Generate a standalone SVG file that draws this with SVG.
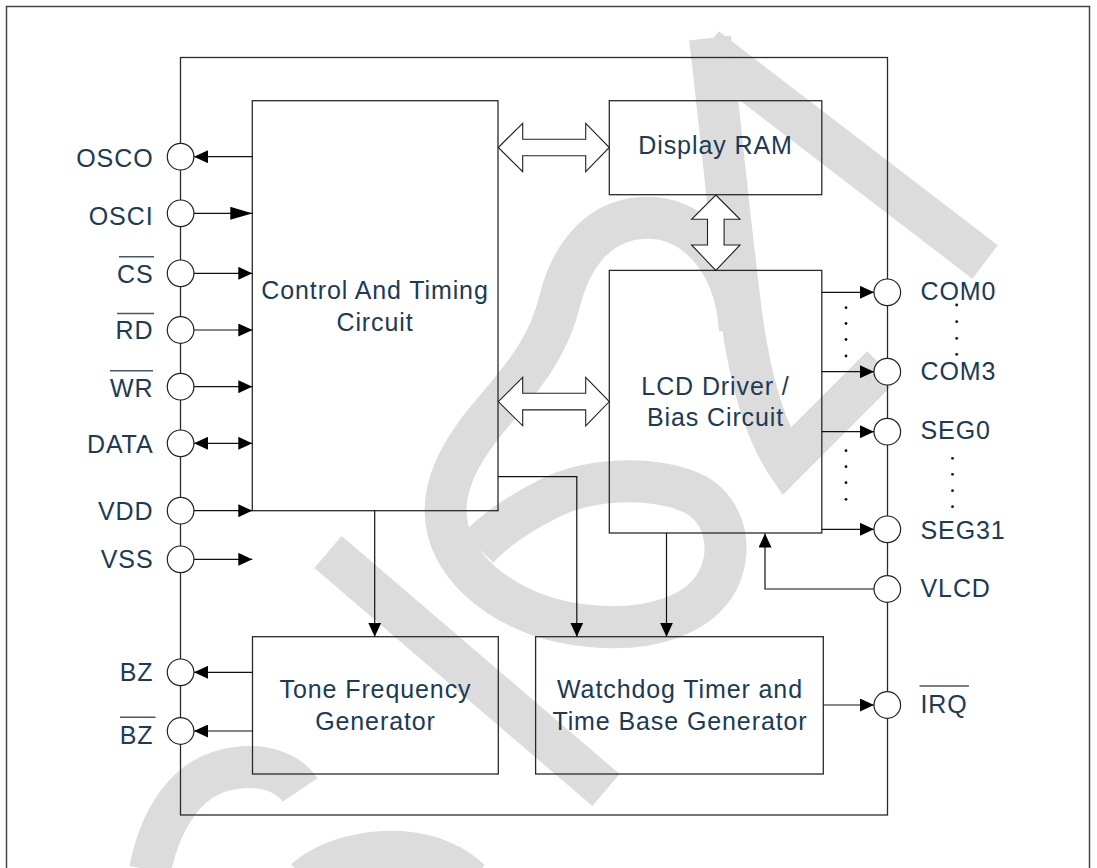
<svg xmlns="http://www.w3.org/2000/svg" width="1097" height="868" viewBox="0 0 1097 868">
<style>
.t{font-family:"Liberation Sans",Arial,sans-serif;font-size:25px;letter-spacing:0.9px;fill:#203a55}
.m{text-anchor:middle}
.e{text-anchor:end}
.box{fill:none;stroke:#2a2a2a;stroke-width:1.3}
.ln{fill:none;stroke:#111;stroke-width:1.2}
.pin{fill:#fff;stroke:#222;stroke-width:1.2}
.ob{stroke:#4a5666;stroke-width:1.5}
.dbl{fill:#fff;stroke:#222;stroke-width:1.1}
.wm{fill:none;stroke:#dcdcdc;stroke-width:42}
.dot{fill:#111}
</style>
<defs>
<marker id="ah" markerUnits="userSpaceOnUse" markerWidth="14" markerHeight="13" refX="14" refY="6.5" orient="auto-start-reverse" viewBox="0 0 14 13"><path d="M0,0 L14,6.5 L0,13 Z" fill="#000"/></marker>
<marker id="ahL" markerUnits="userSpaceOnUse" markerWidth="22" markerHeight="13" refX="22" refY="6.5" orient="auto" viewBox="0 0 22 13"><path d="M0,0 L22,6.5 L0,13 Z" fill="#000"/></marker>
</defs>
<rect x="0" y="0" width="1097" height="868" fill="#fff"/>
<path d="M6.5,870 L6.5,6.5 L1089.5,6.5 L1089.5,870" fill="none" stroke="#444" stroke-width="1.5"/>
<g id="watermark">
<path class="wm" d="M985,262 L706,48"/>
<path class="wm" d="M710,38 C720,120 730,230 742,320 C752,390 768,435 786,462 L882,366" stroke-linejoin="miter"/>
<path class="wm" d="M740,330 C735,255 690,215 642,218 C595,221 570,260 560,300 C548,350 520,380 495,410 C460,450 438,490 448,530 C460,580 520,620 590,626 C650,632 700,615 718,580 C735,545 722,505 690,492 C650,476 590,478 550,498 C520,513 495,530 478,548"/>
<path class="wm" d="M328,552 L606,790"/>
<path class="wm" d="M150,870 C160,820 185,780 225,770 C255,763 285,768 300,790"/>
<path class="wm" d="M305,880 C330,858 370,850 400,852 C430,854 455,865 470,880"/>
</g>
<g id="chip"><rect class="box" x="180.5" y="57.5" width="707" height="757.5"/></g>
<g id="control"><rect class="box" x="252.3" y="100.7" width="245.7" height="410"/>
<text class="t m" x="375" y="299">Control And Timing</text><text class="t m" x="375" y="331">Circuit</text></g>
<g id="displayram"><rect class="box" x="609.3" y="100.7" width="212.5" height="94"/>
<text class="t m" x="715.5" y="154.3">Display RAM</text></g>
<g id="lcd"><rect class="box" x="609.3" y="270.4" width="212.5" height="262.6"/>
<text class="t m" x="715.5" y="394.6">LCD Driver /</text><text class="t m" x="715.5" y="425.7">Bias Circuit</text></g>
<g id="tone"><rect class="box" x="252.5" y="636.7" width="245.8" height="137.3"/>
<text class="t m" x="375.5" y="698.3">Tone Frequency</text><text class="t m" x="375.5" y="730">Generator</text></g>
<g id="watchdog"><rect class="box" x="535.6" y="636.7" width="287.7" height="137.3"/>
<text class="t m" x="680" y="698.3">Watchdog Timer and</text><text class="t m" x="680" y="730">Time Base Generator</text></g>
<g id="connectors">
<polygon class="dbl" points="498.3,147.5 522.7,123.3 522.7,139.2 585.7,139.2 585.7,123.3 609.3,147.5 585.7,171.7 585.7,155.8 522.7,155.8 522.7,171.7"/>
<polygon class="dbl" points="498.3,401.6 522.7,377.4 522.7,393.3 585.7,393.3 585.7,377.4 609.3,401.6 585.7,425.8 585.7,409.9 522.7,409.9 522.7,425.8"/>
<polygon class="dbl" points="715.8,195 740,219.3 724.1,219.3 724.1,245 740,245 715.8,270.4 691.6,245 707.5,245 707.5,219.3 691.6,219.3"/>
<line class="ln" x1="252.3" y1="156.7" x2="194" y2="156.7" marker-end="url(#ah)"/>
<line class="ln" x1="194" y1="213.3" x2="252.3" y2="213.3" marker-end="url(#ahL)"/>
<line class="ln" x1="194" y1="273.3" x2="252.3" y2="273.3" marker-end="url(#ah)"/>
<line class="ln" x1="194" y1="330" x2="252.3" y2="330" marker-end="url(#ah)"/>
<line class="ln" x1="194" y1="386.7" x2="252.3" y2="386.7" marker-end="url(#ah)"/>
<line class="ln" x1="194" y1="443.3" x2="252.3" y2="443.3" marker-start="url(#ah)" marker-end="url(#ah)"/>
<line class="ln" x1="194" y1="510.7" x2="252.3" y2="510.7" marker-end="url(#ah)"/>
<line class="ln" x1="194" y1="559.3" x2="252.3" y2="559.3" marker-end="url(#ah)"/>
<line class="ln" x1="252.5" y1="672.3" x2="194" y2="672.3" marker-end="url(#ah)"/>
<line class="ln" x1="252.5" y1="731" x2="194" y2="731" marker-end="url(#ah)"/>
<line class="ln" x1="821.8" y1="292.3" x2="874" y2="292.3" marker-end="url(#ah)"/>
<line class="ln" x1="821.8" y1="371.7" x2="874" y2="371.7" marker-end="url(#ah)"/>
<line class="ln" x1="821.8" y1="431.7" x2="874" y2="431.7" marker-end="url(#ah)"/>
<line class="ln" x1="821.8" y1="529.3" x2="874" y2="529.3" marker-end="url(#ah)"/>
<polyline class="ln" points="874,589 765,589 765,533.5" marker-end="url(#ah)"/>
<line class="ln" x1="374.7" y1="510.7" x2="374.7" y2="636.7" marker-end="url(#ah)"/>
<polyline class="ln" points="498,476.7 576.8,476.7 576.8,636.7" marker-end="url(#ah)"/>
<line class="ln" x1="666.5" y1="533" x2="666.5" y2="636.7" marker-end="url(#ah)"/>
<line class="ln" x1="823.3" y1="705" x2="874" y2="705" marker-end="url(#ah)"/>
<circle class="dot" cx="846" cy="307.7" r="1.4"/><circle class="dot" cx="846" cy="323.5" r="1.4"/><circle class="dot" cx="846" cy="339.5" r="1.4"/><circle class="dot" cx="846" cy="356" r="1.4"/>
<circle class="dot" cx="846" cy="450.7" r="1.4"/><circle class="dot" cx="846" cy="466.7" r="1.4"/><circle class="dot" cx="846" cy="482.7" r="1.4"/><circle class="dot" cx="846" cy="499.3" r="1.4"/>
</g>
<g id="pins-left">
<circle class="pin" cx="180.6" cy="156.7" r="13.3"/><text class="t e" x="153.5" y="167.3">OSCO</text>
<circle class="pin" cx="180.6" cy="213.3" r="13.3"/><text class="t e" x="153.5" y="225">OSCI</text>
<circle class="pin" cx="180.6" cy="273.3" r="13.3"/><text class="t e" x="153.5" y="282.7">CS</text><line class="ob" x1="119" y1="256.7" x2="154" y2="256.7"/>
<circle class="pin" cx="180.6" cy="330" r="13.3"/><text class="t e" x="153.5" y="339.3">RD</text><line class="ob" x1="117" y1="313.4" x2="154" y2="313.4"/>
<circle class="pin" cx="180.6" cy="386.7" r="13.3"/><text class="t e" x="153.5" y="396.7">WR</text><line class="ob" x1="110" y1="370.7" x2="153" y2="370.7"/>
<circle class="pin" cx="180.6" cy="443.3" r="13.3"/><text class="t e" x="153.5" y="453.3">DATA</text>
<circle class="pin" cx="180.6" cy="510.7" r="13.3"/><text class="t e" x="153.5" y="520">VDD</text>
<circle class="pin" cx="180.6" cy="559.3" r="13.3"/><text class="t e" x="153.5" y="568.3">VSS</text>
<circle class="pin" cx="180.6" cy="672.3" r="13.3"/><text class="t e" x="153.5" y="680.7">BZ</text>
<circle class="pin" cx="180.6" cy="731" r="13.3"/><text class="t e" x="153.5" y="744">BZ</text><line class="ob" x1="120" y1="717.3" x2="155.5" y2="717.3"/>
</g>
<g id="pins-right">
<circle class="pin" cx="887.3" cy="292.3" r="13.3"/><text class="t" x="920.5" y="300">COM0</text>
<circle class="pin" cx="887.3" cy="371.7" r="13.3"/><text class="t" x="920.5" y="380">COM3</text>
<circle class="pin" cx="887.3" cy="431.7" r="13.3"/><text class="t" x="920.5" y="439">SEG0</text>
<circle class="pin" cx="887.3" cy="529.3" r="13.3"/><text class="t" x="920.5" y="539">SEG31</text>
<circle class="pin" cx="887.3" cy="589" r="13.3"/><text class="t" x="920.5" y="597.3">VLCD</text>
<circle class="pin" cx="887.3" cy="705" r="13.3"/><text class="t" x="920.5" y="713.3">IRQ</text><line class="ob" x1="919.5" y1="686" x2="969" y2="686"/>
<circle class="dot" cx="956.7" cy="305" r="1.4"/><circle class="dot" cx="956.7" cy="321.7" r="1.4"/><circle class="dot" cx="956.7" cy="338.3" r="1.4"/><circle class="dot" cx="956.7" cy="354.3" r="1.4"/>
<circle class="dot" cx="952.5" cy="458.3" r="1.4"/><circle class="dot" cx="952.5" cy="474.3" r="1.4"/><circle class="dot" cx="952.5" cy="490.7" r="1.4"/><circle class="dot" cx="952.5" cy="506.7" r="1.4"/>
</g>
</svg>
